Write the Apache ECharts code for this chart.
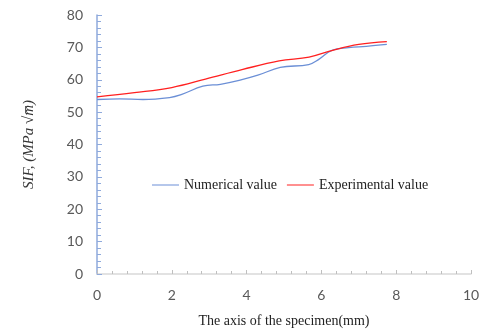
<!DOCTYPE html>
<html>
<head>
<meta charset="utf-8">
<script src="https://cdn.jsdelivr.net/npm/echarts@6/dist/echarts.min.js"></script>
<style>html,body{margin:0;padding:0;background:#fff}#c{width:483px;height:331px}</style>
</head>
<body>
<div id="c"></div>
<script>
// Position along the specimen axis (mm) and stress intensity factor values
const numericalX = [0, 0.6, 1.23, 1.94, 2.25, 2.83, 3.3, 3.8, 4.3, 4.9, 5.66, 5.93, 6.28, 6.73, 7.2, 7.75];
const numericalY = [53.9, 54.1, 53.9, 54.5, 55.4, 58.0, 58.6, 59.8, 61.4, 63.8, 64.7, 66.3, 69.1, 69.9, 70.3, 70.9];
const experimentalX = [0, 1.0, 2.0, 2.9, 3.9, 4.87, 5.67, 6.3, 7.0, 7.75];
const experimentalY = [54.7, 56.0, 57.6, 60.2, 63.2, 65.8, 67.0, 69.1, 70.9, 71.8];
const seriesNames = ['Numerical value', 'Experimental value'];

const pairs = (xs, ys) => xs.map((x, i) => [x, ys[i]]);

const chart = echarts.init(document.getElementById('c'));
chart.setOption({
  animation: false,
  grid: { left: 97, right: 12, top: 15, bottom: 57, containLabel: false, outerBoundsMode: 'none' },
  legend: {
    data: seriesNames,
    left: 147, top: 173,
    itemWidth: 27, itemHeight: 1, itemGap: 10,
    icon: 'rect',
    textStyle: { fontFamily: 'Liberation Serif', fontSize: 14, color: '#222' }
  },
  xAxis: {
    type: 'value', min: 0, max: 10, interval: 2,
    name: 'The axis of the specimen(mm)',
    nameLocation: 'middle', nameGap: 40,
    nameTextStyle: { fontFamily: 'Liberation Serif', fontSize: 14, color: '#222' },
    axisLine: { show: true, onZero: false, lineStyle: { color: '#d9d9d9', width: 1.5 } },
    axisTick: { show: true, inside: true, length: 4, lineStyle: { color: '#bfbfbf' } },
    minorTick: { show: true, splitNumber: 5, length: 3, lineStyle: { color: '#bfbfbf' } },
    axisLabel: { margin: 14, fontFamily: 'Lato', fontSize: 14, color: '#595959' },
    splitLine: { show: false }
  },
  yAxis: {
    type: 'value', min: 0, max: 80, interval: 10,
    name: 'SIF, (MPa \u221Am\u0305)',
    nameLocation: 'middle', nameGap: 60,
    nameTextStyle: { fontFamily: 'Liberation Serif', fontStyle: 'italic', fontSize: 15, color: '#333' },
    axisLine: { show: true, lineStyle: { color: '#8faadc', width: 1.5 } },
    axisTick: { show: true, inside: true, length: 5, lineStyle: { color: '#8faadc' } },
    minorTick: { show: true, splitNumber: 5, length: 4, lineStyle: { color: '#8faadc' } },
    axisLabel: { margin: 14, fontFamily: 'Lato', fontSize: 14, color: '#595959' },
    splitLine: { show: false }
  },
  series: [
    {
      name: seriesNames[0], type: 'line', smooth: 0.4, showSymbol: false,
      data: pairs(numericalX, numericalY),
      lineStyle: { color: '#6b8fd6', width: 1.3 }, itemStyle: { color: '#6b8fd6' }
    },
    {
      name: seriesNames[1], type: 'line', smooth: 0.4, showSymbol: false,
      data: pairs(experimentalX, experimentalY),
      lineStyle: { color: '#ff2020', width: 1.3 }, itemStyle: { color: '#ff2020' }
    }
  ]
});
</script>
</body>
</html>
